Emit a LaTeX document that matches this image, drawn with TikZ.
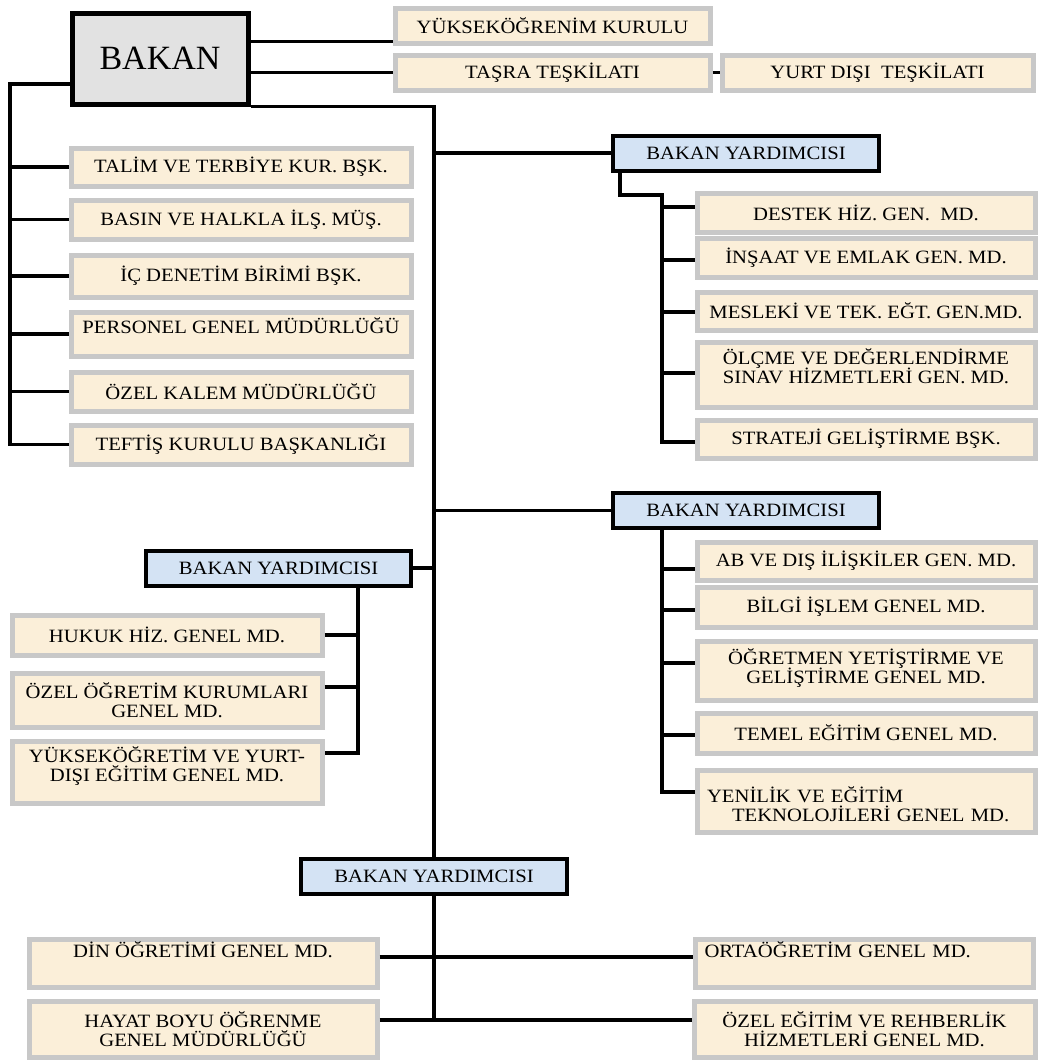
\documentclass[tikz,border=0pt]{standalone}
\usepackage{fontspec}
\setmainfont{Liberation Serif}[FakeStretch=1.1]
\newfontfamily\plainserif{Liberation Serif}
\lineskiplimit=-6pt
\definecolor{unitcream}{RGB}{251,239,217}
\definecolor{unitgray}{RGB}{200,200,200}
\definecolor{deputyblue}{RGB}{212,227,244}
\definecolor{ministergray}{RGB}{226,226,226}
\tikzset{
  unit/.style={draw=unitgray, line width=2.5pt, fill=unitcream, inner sep=1pt, align=center,
    font=\fontsize{9.4}{9.3}\selectfont},
  lunit/.style={unit, minimum width=170pt},
  runit/.style={unit, minimum width=169pt},
  cunit/.style={unit, minimum width=155pt},
  deputy/.style={draw, line width=2pt, fill=deputyblue, inner sep=1pt, minimum width=133pt,
    minimum height=17.5pt, font=\fontsize{9.4}{9.3}\selectfont},
  minister/.style={draw, line width=2.5pt, fill=ministergray, font=\plainserif\fontsize{17}{20}\selectfont},
  lift/.style={text depth=#1},
  link/.style={line width=1.75pt}
}
\begin{document}
\begin{tikzpicture}[x=0.5pt, y=0.5pt]
  \useasboundingbox (0,0) rectangle (1038,-1060);

  \node[minister, minimum width=88pt, minimum height=45.5pt] (bakan) at (160,-58.5) {BAKAN};
  \node[unit, minimum width=157.5pt, minimum height=17.5pt] (yk) at (552.5,-25.5) {YÜKSEKÖĞRENİM KURULU};
  \node[unit, minimum width=157.5pt, minimum height=17.5pt] (ts) at (552.5,-72.5) {TAŞRA TEŞKİLATI};
  \node[unit, minimum width=155.5pt, minimum height=17.5pt] (yd) at (877.5,-72.5) {YURT DIŞI\ \ TEŞKİLATI};

  \node[lunit, minimum height=19pt] (l1) at (241,-167) {TALİM VE TERBİYE KUR. BŞK.};
  \node[lunit, minimum height=19.5pt] (l2) at (241,-219.5) {BASIN VE HALKLA İLŞ. MÜŞ.};
  \node[lunit, minimum height=21pt] (l3) at (241,-276) {İÇ DENETİM BİRİMİ BŞK.};
  \node[lunit, lift=8.5pt, minimum height=22pt] (l4) at (241,-334) {PERSONEL GENEL MÜDÜRLÜĞÜ};
  \node[lunit, minimum height=19.5pt] (l5) at (241,-391.5) {ÖZEL KALEM MÜDÜRLÜĞÜ};
  \node[lunit, minimum height=19.5pt] (l6) at (241,-444.5) {TEFTİŞ KURULU BAŞKANLIĞI};

  \node[deputy] (ya1) at (746,-153) {BAKAN YARDIMCISI};
  \node[deputy] (ya2) at (746,-510.5) {BAKAN YARDIMCISI};
  \node[deputy, minimum width=132.5pt] (ya3) at (278.5,-568) {BAKAN YARDIMCISI};
  \node[deputy] (ya4) at (434,-876.5) {BAKAN YARDIMCISI};

  \node[runit, minimum height=19.5pt] (a1) at (866,-212.5) {DESTEK HİZ. GEN.\ \ MD.};
  \node[runit, minimum height=19.5pt] (a2) at (866,-257.5) {İNŞAAT VE EMLAK GEN. MD.};
  \node[runit, minimum height=19pt] (a3) at (866,-311) {MESLEKİ VE TEK. EĞT. GEN.MD.};
  \node[runit, lift=8.5pt, minimum height=32.5pt] (a4) at (866,-374.5) {ÖLÇME VE DEĞERLENDİRME\\SINAV HİZMETLERİ GEN. MD.};
  \node[runit, minimum height=19pt] (a5) at (866,-439) {STRATEJİ GELİŞTİRME BŞK.};

  \node[runit, minimum height=19pt] (b1) at (866,-561) {AB VE DIŞ İLİŞKİLER GEN. MD.};
  \node[runit, minimum height=20pt] (b2) at (866,-607) {BİLGİ İŞLEM GENEL MD.};
  \node[runit, lift=4.5pt, minimum height=29.5pt] (b3) at (866,-670.5) {ÖĞRETMEN YETİŞTİRME VE\\GELİŞTİRME GENEL MD.};
  \node[runit, minimum height=20pt] (b4) at (866,-733) {TEMEL EĞİTİM GENEL MD.};
  \node[unit, align=left, text width=159pt, inner xsep=5pt, lift=6pt, minimum height=31pt] (b5) at (866,-801) {YENİLİK VE EĞİTİM\\\hspace*{12.5pt}TEKNOLOJİLERİ GENEL MD.};

  \node[cunit, minimum height=20pt] (c1) at (167,-635) {HUKUK HİZ. GENEL MD.};
  \node[cunit, minimum height=27pt] (c2) at (167,-700) {ÖZEL ÖĞRETİM KURUMLARI\\GENEL MD.};
  \node[cunit, lift=8pt, minimum height=31pt] (c3) at (167,-772) {YÜKSEKÖĞRETİM VE YURT-\\DIŞI EĞİTİM GENEL MD.};

  \node[unit, lift=13pt, minimum width=174pt, minimum height=24pt] (d1) at (203,-963) {DİN ÖĞRETİMİ GENEL MD.};
  \node[unit, minimum width=174pt, minimum height=28pt] (d2) at (203,-1029) {HAYAT BOYU ÖĞRENME\\GENEL MÜDÜRLÜĞÜ};
  \node[unit, lift=13pt, align=left, text width=160pt, inner xsep=4.5pt, minimum height=24pt] (d3) at (864.5,-963) {ORTAÖĞRETİM GENEL MD.};
  \node[unit, minimum width=170.5pt, minimum height=28pt] (d4) at (864.5,-1029) {ÖZEL EĞİTİM VE REHBERLİK\\HİZMETLERİ GENEL MD.};

  \draw[link] ([yshift=-8pt]yk.west) -- ([yshift=-8pt]yk.west -| bakan.east);
  \draw[link] (ts.west) -- (ts.west -| bakan.east);
  \draw[link] (ts) -- (yd);
  \draw[link] (bakan.south east) -| (ya4.north);

  \coordinate (lb) at (10,-84);
  \draw[link] (bakan.west |- lb) -- (lb) |- (l6.west);
  \foreach \n in {l1,l2,l3,l4,l5}
    \draw[link] (\n.west) -- (\n.west -| lb);

  \draw[link] (ya1.west) -- (ya1.west -| ya4.north);
  \draw[link] (ya2.west) -- (ya2.west -| ya4.north);
  \draw[link] (ya3.east) -- (ya3.east -| ya4.north);

  \coordinate (ab) at ([xshift=-63pt]ya1.south);
  \coordinate (abus) at (662,-195);
  \draw[link] (ab) |- (abus) |- ([yshift=-1.5pt]a5.west);
  \foreach \n/\s in {a1/2.75,a2/-1.25,a3/-0.5,a4/0.75}
    \draw[link] ([yshift=\s pt]\n.west) -- ([yshift=\s pt]\n.west -| abus);

  \coordinate (bb) at ([xshift=-42pt]ya2.south);
  \draw[link] (bb) |- ([yshift=4.5pt]b5.west);
  \foreach \n/\s in {b1/-4,b2/-1.5,b3/3.75,b4/-1}
    \draw[link] ([yshift=\s pt]\n.west) -- ([yshift=\s pt]\n.west -| bb);

  \coordinate (cb) at ([xshift=39.75pt]ya3.south);
  \draw[link] (cb) |- ([yshift=9.5pt]c3.east);
  \foreach \n/\s in {c1/0,c2/6.5}
    \draw[link] ([yshift=\s pt]\n.east) -- ([yshift=\s pt]\n.east -| cb);

  \draw[link] (ya4.south) -- ([yshift=4.5pt]ya4.south |- d2.east);
  \draw[link] ([yshift=3pt]d1.east) -- ([yshift=3pt]d3.west);
  \draw[link] ([yshift=4.5pt]d2.east) -- ([yshift=4.5pt]d4.west);
\end{tikzpicture}
\end{document}
